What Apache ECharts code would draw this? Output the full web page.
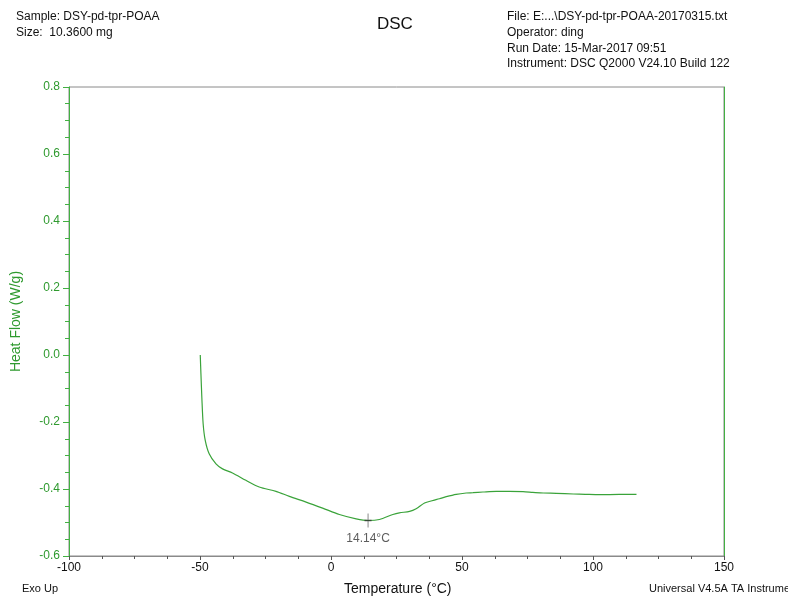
<!DOCTYPE html>
<html>
<head>
<meta charset="utf-8">
<script src="https://cdn.jsdelivr.net/npm/echarts@6/dist/echarts.min.js"></script>
<style>
  html, body { margin: 0; padding: 0; background: #fff; }
  #chart { width: 788px; height: 599px; }
</style>
</head>
<body>
<div id="chart"></div>
<script>
// DSC scan: temperature (°C) vs heat flow (W/g)
const temperature = [-49.9, -49.65, -49.3, -48.8, -48.0, -46.5, -43.9, -41.4, -37.6, -32.5, -27.4, -21.0, -15.9, -9.5, -3.2, 3.2, 9.6, 14.14, 18.5, 23.6, 26.1, 30.0, 32.5, 35.7, 38.5, 41.4, 44.0, 47.8, 51.6, 54.2, 58.0, 63.1, 68.0, 73.3, 77.0, 81.0, 86.0, 92.5, 97.0, 102.6, 110.0, 116.6];
const heatFlow = [0.0, -0.055, -0.126, -0.205, -0.255, -0.295, -0.325, -0.340, -0.352, -0.374, -0.394, -0.407, -0.422, -0.439, -0.457, -0.476, -0.489, -0.494, -0.491, -0.476, -0.471, -0.467, -0.459, -0.442, -0.435, -0.429, -0.423, -0.416, -0.412, -0.411, -0.409, -0.407, -0.407, -0.408, -0.410, -0.412, -0.413, -0.415, -0.416, -0.417, -0.416, -0.416];

// Peak annotation
const peakTemp = 14.14;
const peakFlow = -0.494;

const xTicks = [-100, -50, 0, 50, 100, 150];
const yTicks = [-0.6, -0.4, -0.2, 0.0, 0.2, 0.4, 0.6, 0.8];

const headerLeft = ['Sample: DSY-pd-tpr-POAA', 'Size:  10.3600 mg'];
const headerRight = ['File: E:...\\DSY-pd-tpr-POAA-20170315.txt', 'Operator: ding', 'Run Date: 15-Mar-2017 09:51', 'Instrument: DSC Q2000 V24.10 Build 122'];

const FONT = 'Liberation Sans, Arial, sans-serif';
const GREEN = '#2f9a2f';
const AXIS_GREEN = '#43b043';

const chart = echarts.init(document.getElementById('chart'), null, { renderer: 'canvas' });

const points = temperature.map((t, i) => [t, heatFlow[i]]);

const textEl = (x, y, text, opts = {}) => ({
  type: 'text', left: x, top: y,
  style: Object.assign({ text, fill: '#111', font: '12px ' + FONT }, opts)
});

const graphics = [];
headerLeft.forEach((s, i) => graphics.push(textEl(16, 11 + i * 16, s)));
headerRight.forEach((s, i) => graphics.push(textEl(507, 11 + i * 15.6, s)));
graphics.push(textEl(377, 16, 'DSC', { font: '17px ' + FONT }));
graphics.push(textEl(22, 583, 'Exo Up', { font: '11px ' + FONT }));
graphics.push(textEl(344, 582, 'Temperature (°C)', { font: '14px ' + FONT }));
graphics.push(textEl(649, 583, 'Universal V4.5A TA Instruments', { font: '11px ' + FONT }));

chart.setOption({
  animation: false,
  backgroundColor: '#fff',
  grid: {
    left: 69, right: 64, top: 87, bottom: 43,
    outerBoundsMode: 'none', containLabel: false,
    show: true, borderColor: '#8a8a8a', borderWidth: 1
  },
  graphic: graphics,
  xAxis: {
    type: 'value', min: xTicks[0], max: xTicks[xTicks.length - 1], interval: 50,
    axisLine: { show: true, onZero: false, lineStyle: { color: '#8a8a8a' } },
    axisTick: { show: true, inside: false, length: 4, lineStyle: { color: '#555' } },
    minorTick: { show: true, splitNumber: 4, length: 3, lineStyle: { color: '#555' } },
    axisLabel: { color: '#111', fontFamily: FONT, fontSize: 12, margin: 6 },
    splitLine: { show: false }
  },
  yAxis: [
    {
      type: 'value', min: yTicks[0], max: yTicks[yTicks.length - 1], interval: 0.2,
      name: 'Heat Flow (W/g)', nameLocation: 'middle', nameGap: 46, nameRotate: 90,
      nameTextStyle: { color: GREEN, fontFamily: FONT, fontSize: 14 },
      axisLine: { show: true, onZero: false, lineStyle: { color: AXIS_GREEN } },
      axisTick: { show: true, inside: false, length: 6, lineStyle: { color: AXIS_GREEN } },
      minorTick: { show: true, splitNumber: 4, length: 4, lineStyle: { color: AXIS_GREEN } },
      axisLabel: { color: GREEN, fontFamily: FONT, fontSize: 12, margin: 9, formatter: v => v.toFixed(1) },
      splitLine: { show: false }
    },
    {
      type: 'value', position: 'right', min: yTicks[0], max: yTicks[yTicks.length - 1],
      axisLine: { show: true, onZero: false, lineStyle: { color: AXIS_GREEN } },
      axisTick: { show: false }, axisLabel: { show: false }, splitLine: { show: false }
    }
  ],
  series: [
    {
      type: 'line', data: points, showSymbol: false, smooth: 0.3,
      lineStyle: { color: '#3aa33a', width: 1.2 }, z: 3
    },
    {
      type: 'scatter', data: [[peakTemp, peakFlow]],
      symbol: 'path://M4,0 L4,14 M0,7 L8,7', symbolSize: [7, 14],
      itemStyle: { color: 'none', borderColor: '#333', borderWidth: 1 },
      label: {
        show: true, position: 'bottom', distance: 2,
        formatter: () => peakTemp.toFixed(2) + '°C',
        color: '#333', fontFamily: FONT, fontSize: 12
      },
      z: 4
    }
  ]
});
</script>
</body>
</html>
